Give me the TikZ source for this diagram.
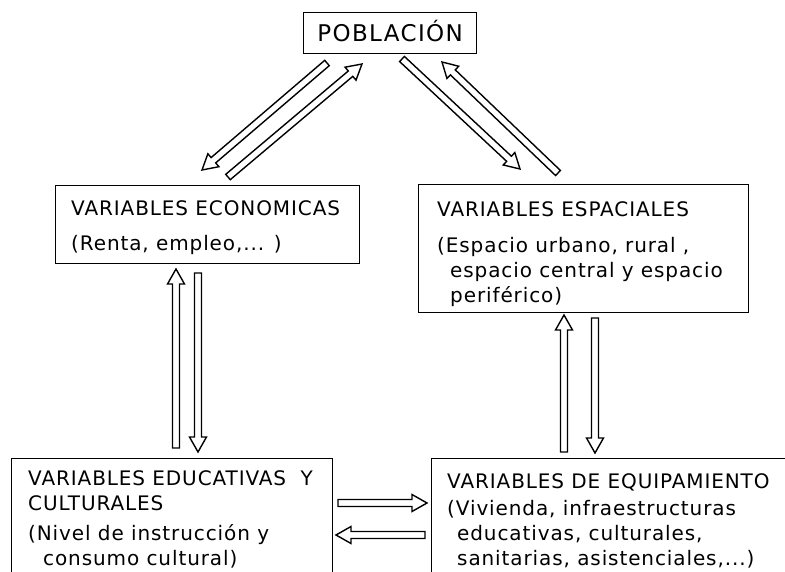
\documentclass[tikz,border=0pt]{standalone}
\usepackage{fontspec}
\setmainfont{DejaVu Sans}[LetterSpace=4.5]
\usetikzlibrary{calc}
\usetikzlibrary{positioning}

\tikzset{
  box/.style={draw, line width=1.2pt, anchor=north west, inner sep=0pt},
  boxtext/.style={align=left, inner sep=0pt, font=\fontsize{20}{25}\selectfont},
  hollow/.style={draw, line width=1.4pt}
}

\newcommand{\hollowarrow}[2]{%
  \coordinate (hc) at ($(#2)!15pt!(#1)$);
  \draw[hollow] ($(#1)!3.5pt!90:(#2)$) -- ($(hc)!3.5pt!90:(#2)$) -- ($(hc)!8.5pt!90:(#2)$) -- (#2)
    -- ($(hc)!8.5pt!-90:(#2)$) -- ($(hc)!3.5pt!-90:(#2)$) -- ($(#1)!3.5pt!-90:(#2)$) -- cycle;}

\begin{document}
\begin{tikzpicture}[x=1pt, y=-1pt]
                \clip (0, 0) rectangle (785, 572);

                \node[box, minimum width=173pt, minimum height=41pt, text height=17pt, text depth=0pt,
                  font=\fontsize{23}{28}\selectfont\addfontfeature{LetterSpace=6}] (pob) at (303, 12) {POBLACIÓN};
                \node[box, minimum width=304pt, minimum height=78pt] (eco) at (55, 185) {};
                \node[box, minimum width=330pt, minimum height=128pt] (esp) at (418, 184) {};
                \node[box, minimum width=321pt, minimum height=200pt] (edu) at (11, 458) {};
                \node[box, minimum width=400pt, minimum height=200pt] (equ) at (431, 458) {};

                \node[boxtext, below right=15.4pt and 16pt of eco.north west] (ecotext)
                  {VARIABLES ECONOMICAS\\[10pt](Renta, empleo,... )};
                \node[boxtext, below right=17.4pt and 19pt of esp.north west] (esptext)
                  {VARIABLES ESPACIALES\\[11pt](Espacio urbano, rural ,\\
                   \hspace*{13pt}espacio central y espacio\\ \hspace*{13pt}periférico)};
                \node[boxtext, below right=12.4pt and 17pt of edu.north west] (edutext)
                  {VARIABLES EDUCATIVAS\ \ Y\\CULTURALES\\[5pt](Nivel de instrucción y\\
                   \hspace*{15pt}consumo cultural)};
                \node[boxtext, below right=15.4pt and 16pt of equ.north west] (equtext)
                  {VARIABLES DE EQUIPAMIENTO\\[2pt](Vivienda, infraestructuras\\
                   \hspace*{10pt}educativas, culturales,\\ \hspace*{10pt}sanitarias, asistenciales,...)};

                \coordinate (poeco-a) at (327, 63);  \coordinate (poeco-b) at (202, 170);
                \coordinate (ecopo-a) at (228, 177); \coordinate (ecopo-b) at (362, 64);
                \coordinate (poesp-a) at (402, 59);  \coordinate (poesp-b) at (520, 169);
                \coordinate (esppo-a) at (558, 173); \coordinate (esppo-b) at (442, 62);
                \coordinate (edueco-a) at (176, 448); \coordinate (edueco-b) at (176, 269);
                \coordinate (ecoedu-a) at (198, 273); \coordinate (ecoedu-b) at (198, 452);
                \coordinate (equesp-a) at (564, 452); \coordinate (equesp-b) at (564, 315);
                \coordinate (espequ-a) at (595, 318); \coordinate (espequ-b) at (595, 453);
                \coordinate (eduequ-a) at (338, 503); \coordinate (eduequ-b) at (427, 503);
                \coordinate (equedu-a) at (425, 535); \coordinate (equedu-b) at (336, 535);

                \hollowarrow{poeco-a}{poeco-b}
                \hollowarrow{ecopo-a}{ecopo-b}
                \hollowarrow{poesp-a}{poesp-b}
                \hollowarrow{esppo-a}{esppo-b}
                \hollowarrow{edueco-a}{edueco-b}
                \hollowarrow{ecoedu-a}{ecoedu-b}
                \hollowarrow{equesp-a}{equesp-b}
                \hollowarrow{espequ-a}{espequ-b}
                \hollowarrow{eduequ-a}{eduequ-b}
                \hollowarrow{equedu-a}{equedu-b}
            \end{tikzpicture}
\end{document}
